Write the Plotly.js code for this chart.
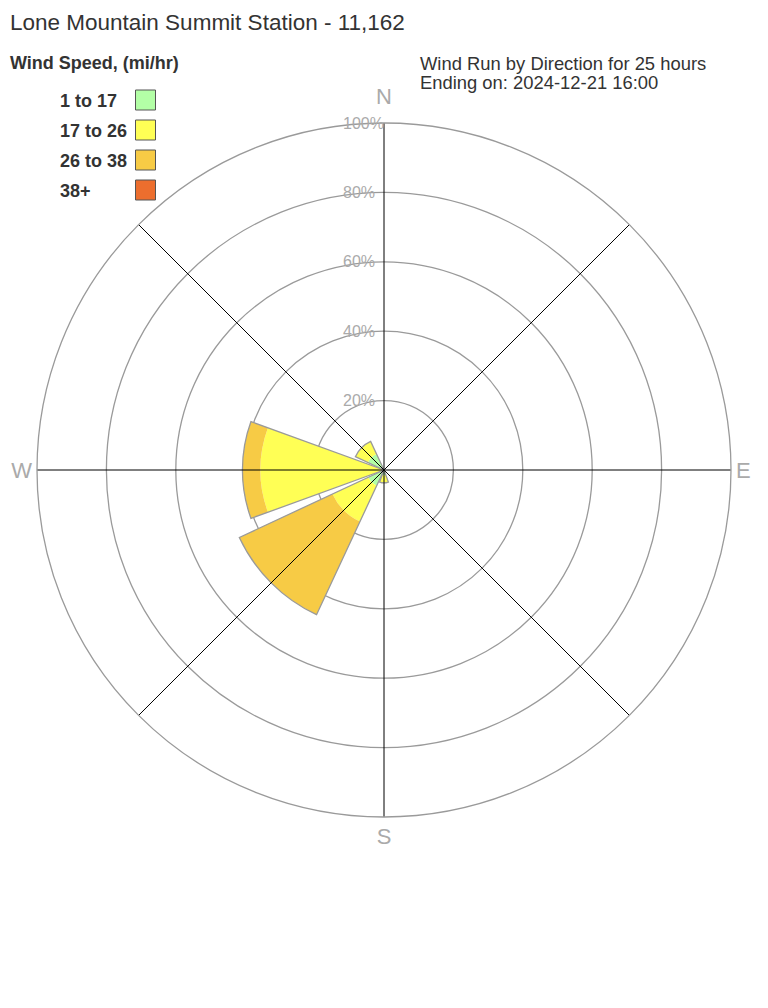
<!DOCTYPE html>
<html>
<head>
<meta charset="utf-8">
<script src="https://cdn.plot.ly/plotly-3.0.1.min.js"></script>
<style>html,body{margin:0;padding:0;background:#fff;}#chart{width:768px;height:1008px;}</style>
</head>
<body>
<div id="chart"></div>
<script>
// Directions (degrees clockwise from North)
const directions = [0, 45, 90, 135, 180, 225, 270, 315];
const dirLabels = ['', '', 'E', '', 'S', '', 'W', ''];
const northLabel = 'N';
// Percent of wind run per direction, by speed band
const speedBands = ['1 to 17', '17 to 26', '26 to 38', '38+'];
const band1to17  = [0, 0, 0, 0, 1.5, 5.0, 0.5, 5.1];
const band17to26 = [0, 0, 0, 0, 2.2, 11.4, 35.1, 4.0];
const band26to38 = [0, 0, 0, 0, 0, 29.6, 5.2, 0];
const band38plus = [0, 0, 0, 0, 0, 0, 0, 0];
const bandColors = ['#b3ffa6', '#ffff55', '#f7cb45', '#ec6e2e'];
const radialTicks = [20, 40, 60, 80, 100];
const radialTickText = ['20%', '40%', '60%', '80%', '100%'];

const series = [band1to17, band17to26, band26to38, band38plus];
const traces = [];
let base = directions.map(() => 0);
series.forEach((vals, i) => {
  traces.push({
    type: 'barpolar', r: vals.slice(), base: base.slice(), theta: directions,
    width: directions.map(() => 40),
    marker: {color: bandColors[i], line: {width: 0}},
    name: speedBands[i], showlegend: false, hoverinfo: 'skip'
  });
  base = base.map((b, k) => b + vals[k]);
});
// outline around each stacked wedge
traces.push({
  type: 'barpolar', r: base, theta: directions, width: directions.map(() => 40),
  marker: {color: 'rgba(0,0,0,0)', line: {color: '#9a9a9a', width: 1.3}},
  showlegend: false, hoverinfo: 'skip'
});
// direction spokes drawn on top of the wedges
const spokeR = [], spokeT = [];
directions.forEach(d => { spokeR.push(0, 100, null); spokeT.push(d, d, null); });
traces.push({
  type: 'scatterpolar', mode: 'lines', r: spokeR, theta: spokeT,
  line: {color: '#000', width: 1}, showlegend: false, hoverinfo: 'skip', connectgaps: false
});

const W = 768, H = 1008;
const px = x => x / W, py = y => 1 - y / H;
const font = 'Liberation Sans, Arial, sans-serif';
const cx = 384, cy = 470, R = 347;
const annotations = [
  {text: 'Lone Mountain Summit Station - 11,162', x: px(8), y: py(22), font: {size: 22.5, color: '#333'}},
  {text: '<b>Wind Speed, (mi/hr)</b>', x: px(8), y: py(63), font: {size: 18, color: '#333'}},
  {text: 'Wind Run by Direction for 25 hours', x: px(418), y: py(63), font: {size: 18.4, color: '#333'}},
  {text: 'Ending on: 2024-12-21 16:00', x: px(418), y: py(82), font: {size: 18.4, color: '#333'}}
];
const shapes = [];
speedBands.forEach((lab, i) => {
  const yc = 100 + 30 * i;
  annotations.push({text: '<b>' + lab + '</b>', x: px(58), y: py(yc + 1), font: {size: 18, color: '#333'}});
  shapes.push({type: 'rect', xref: 'paper', yref: 'paper', x0: px(135.5), x1: px(155.5), y0: py(yc - 10), y1: py(yc + 10),
    fillcolor: bandColors[i], line: {color: '#555', width: 1}});
});
// radial tick labels placed on the radial scale (upward from centre)
radialTicks.forEach((v, i) => {
  annotations.push({text: radialTickText[i], x: px(341), y: py(cy - v / 100 * R), font: {size: 16, color: '#aaa'}});
});
annotations.forEach(a => { a.xanchor = 'left'; });
annotations.push({text: northLabel, x: px(cx), y: py(96), xanchor: 'center', font: {size: 22, color: '#aaa'}});
annotations.forEach(a => { a.xref = 'paper'; a.yref = 'paper'; a.yanchor = 'middle'; a.showarrow = false; a.font.family = font; });

const layout = {
  width: W, height: H, margin: {l: 0, r: 0, t: 0, b: 0},
  paper_bgcolor: '#fff', font: {family: font},
  showlegend: false,
  polar: {
    domain: {x: [(cx - R) / W, (cx + R) / W], y: [1 - (cy + R) / H, 1 - (cy - R) / H]},
    bgcolor: 'rgba(0,0,0,0)',
    barmode: 'overlay',
    radialaxis: {range: [0, 100], tickmode: 'array', tickvals: radialTicks, angle: 90,
      showline: false, showticklabels: false, gridcolor: '#9a9a9a', gridwidth: 1.3, ticks: ''},
    angularaxis: {direction: 'clockwise', rotation: 90, tickvals: directions, ticktext: dirLabels,
      showgrid: false, showline: true, linecolor: '#9a9a9a', linewidth: 1.3, ticks: '',
      tickfont: {size: 22, color: '#aaa'}}
  },
  annotations: annotations, shapes: shapes
};
Plotly.newPlot('chart', traces, layout, {displayModeBar: false, staticPlot: true});
</script>
</body>
</html>
